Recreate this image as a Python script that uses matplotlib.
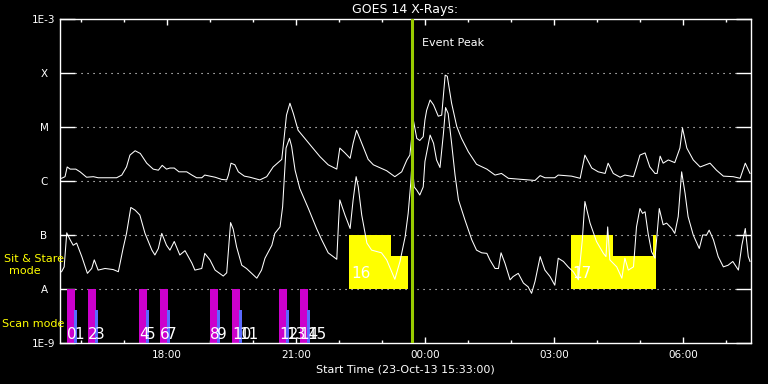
import numpy as np
import matplotlib
matplotlib.use("Agg")
import matplotlib.pyplot as plt
from matplotlib.ticker import NullLocator

# time axis: hours since 23-Oct-13 15:33:00
# flux given as log10(W/m^2)

# long channel (1-8 A)
long_t = [0.0, 0.08, 0.13, 0.20, 0.33, 0.43, 0.58, 0.74, 0.85, 1.28,
          1.40, 1.51, 1.59, 1.71, 1.83, 1.98, 2.13, 2.25, 2.34, 2.44,
          2.52, 2.62, 2.73, 2.91, 3.03, 3.14, 3.26, 3.33, 3.45, 3.57,
          3.72, 3.84, 3.88, 3.94, 4.03, 4.11, 4.25, 4.38, 4.61, 4.77,
          4.92, 5.12, 5.17, 5.23, 5.31, 5.39, 5.50, 5.78, 6.01, 6.20,
          6.40, 6.47, 6.59, 6.71, 6.78, 6.86, 6.98, 7.13, 7.25, 7.56,
          7.75, 7.91, 8.03, 8.10, 8.14, 8.18, 8.26, 8.33, 8.41, 8.45,
          8.49, 8.57, 8.65, 8.76, 8.84, 8.92, 8.97, 9.07, 9.19, 9.30,
          9.46, 9.65, 9.89, 10.08, 10.23, 10.39, 10.70, 11.01, 11.13, 11.24,
          11.47, 11.55, 11.86, 12.06, 12.17, 12.33, 12.48, 12.64, 12.71, 12.83,
          12.99, 13.10, 13.30, 13.37, 13.45, 13.57, 13.68, 13.80, 13.85, 13.92,
          13.99, 14.11, 14.26, 14.38, 14.44, 14.54, 14.69, 14.85, 15.08, 15.23,
          15.39, 15.62, 15.78, 15.90, 16.01]
long_log = [-5.95, -5.92, -5.74, -5.78, -5.78, -5.83, -5.93, -5.92, -5.94, -5.94,
            -5.89, -5.74, -5.52, -5.44, -5.49, -5.67, -5.78, -5.80, -5.71, -5.78,
            -5.76, -5.76, -5.83, -5.83, -5.89, -5.94, -5.94, -5.89, -5.91, -5.93,
            -5.97, -5.98, -5.89, -5.67, -5.70, -5.83, -5.91, -5.93, -5.98, -5.92,
            -5.74, -5.60, -5.24, -4.78, -4.56, -4.75, -5.06, -5.33, -5.55, -5.70,
            -5.78, -5.39, -5.48, -5.58, -5.30, -5.06, -5.30, -5.60, -5.70, -5.81,
            -5.92, -5.83, -5.61, -5.52, -5.21, -4.87, -5.21, -5.25, -5.18, -4.87,
            -4.69, -4.50, -4.59, -4.80, -4.78, -4.04, -4.06, -4.56, -4.99, -5.21,
            -5.46, -5.69, -5.78, -5.89, -5.86, -5.95, -5.97, -5.99, -5.90, -5.94,
            -5.94, -5.89, -5.91, -5.95, -5.52, -5.76, -5.83, -5.86, -5.67, -5.86,
            -5.93, -5.89, -5.92, -5.74, -5.52, -5.48, -5.74, -5.86, -5.86, -5.54,
            -5.67, -5.61, -5.66, -5.39, -5.02, -5.39, -5.61, -5.74, -5.67, -5.80,
            -5.91, -5.92, -5.95, -5.67, -5.86]

# short channel (0.5-4 A)
short_t = [0.0, 0.06, 0.12, 0.20, 0.27, 0.35, 0.47, 0.60, 0.70, 0.76,
           0.85, 1.01, 1.20, 1.32, 1.43, 1.51, 1.61, 1.71, 1.82, 1.94,
           2.10, 2.17, 2.25, 2.33, 2.44, 2.52, 2.62, 2.75, 2.87, 3.03,
           3.10, 3.26, 3.33, 3.45, 3.57, 3.76, 3.84, 3.93, 3.99, 4.07,
           4.19, 4.30, 4.54, 4.65, 4.73, 4.89, 4.96, 5.08, 5.14, 5.22,
           5.30, 5.35, 5.43, 5.54, 5.74, 5.93, 6.05, 6.20, 6.40, 6.44,
           6.47, 6.59, 6.71, 6.78, 6.85, 6.90, 6.98, 7.10, 7.21, 7.44,
           7.56, 7.75, 7.87, 7.99, 8.06, 8.12, 8.15, 8.20, 8.26, 8.33,
           8.41, 8.45, 8.57, 8.65, 8.72, 8.80, 8.88, 8.93, 8.99, 9.07,
           9.15, 9.23, 9.38, 9.54, 9.65, 9.77, 9.89, 9.96, 10.08, 10.16,
           10.22, 10.31, 10.43, 10.50, 10.62, 10.74, 10.85, 10.93, 11.01, 11.13,
           11.24, 11.36, 11.47, 11.55, 11.67, 11.78, 11.90, 12.02, 12.11, 12.17,
           12.29, 12.44, 12.60, 12.66, 12.70, 12.75, 12.91, 13.03, 13.10, 13.18,
           13.30, 13.37, 13.45, 13.51, 13.57, 13.64, 13.72, 13.80, 13.90, 13.99,
           14.07, 14.19, 14.26, 14.34, 14.42, 14.50, 14.57, 14.69, 14.83, 14.91,
           15.00, 15.06, 15.16, 15.27, 15.39, 15.50, 15.61, 15.74, 15.82, 15.90,
           15.97, 16.01]
short_log = [-7.68, -7.59, -6.96, -7.09, -7.19, -7.15, -7.40, -7.71, -7.62, -7.46,
             -7.65, -7.62, -7.64, -7.68, -7.25, -6.97, -6.49, -6.54, -6.63, -6.97,
             -7.28, -7.37, -7.25, -6.97, -7.19, -7.28, -7.12, -7.37, -7.29, -7.52,
             -7.65, -7.62, -7.34, -7.46, -7.65, -7.76, -7.70, -6.77, -6.89, -7.22,
             -7.56, -7.62, -7.80, -7.65, -7.43, -7.19, -6.97, -6.85, -6.48, -5.39,
             -5.21, -5.36, -5.80, -6.14, -6.51, -6.88, -7.09, -7.33, -7.45, -6.78,
             -6.35, -6.63, -6.88, -6.35, -5.92, -6.11, -6.63, -7.15, -7.28, -7.33,
             -7.46, -7.82, -7.49, -7.03, -6.60, -6.04, -5.64, -6.11, -6.17, -6.26,
             -6.11, -5.64, -5.15, -5.30, -5.61, -5.75, -5.12, -4.64, -4.75, -5.30,
             -5.89, -6.35, -6.72, -7.09, -7.28, -7.33, -7.34, -7.46, -7.62, -7.62,
             -7.33, -7.52, -7.83, -7.77, -7.71, -7.89, -7.96, -8.08, -7.86, -7.40,
             -7.65, -7.77, -7.93, -7.43, -7.49, -7.59, -7.68, -7.83, -7.09, -6.38,
             -6.78, -7.12, -7.34, -7.40, -6.85, -7.46, -7.59, -7.80, -7.43, -7.65,
             -7.59, -6.85, -6.51, -6.60, -6.57, -6.97, -7.31, -7.43, -6.51, -6.81,
             -6.78, -6.88, -6.97, -6.66, -5.83, -6.23, -6.66, -7.00, -7.25, -7.00,
             -7.00, -6.91, -7.09, -7.40, -7.59, -7.56, -7.49, -7.65, -7.19, -6.88,
             -7.40, -7.49]

event_peak = 8.14

# scan mode observations (start hour), two numbers per scan
scan_start = [0.126, 0.614, 1.80, 2.29, 3.45, 3.96, 5.06, 5.54]
scan_ids = [(0, 1), (2, 3), (4, 5), (6, 7), (8, 9), (10, 11), (12, 13), (14, 15)]
scan_len = 0.186
scan_sub_off = 0.163
scan_sub_len = 0.07
scan_sub_top = -8.39

# sit & stare observations: (start, end, top log10)
sit_segments = [(6.68, 7.66, -7.0), (7.66, 8.06, -7.39),
                (11.85, 12.82, -7.0), (12.82, 13.75, -7.39), (13.75, 13.83, -7.0)]
sit_labels = [(6.73, "16"), (11.87, "17")]

major_hours = [2.45, 5.45, 8.45, 11.45, 14.45]
major_labels = ["18:00", "21:00", "00:00", "03:00", "06:00"]
minor_hours = [0.45, 1.45, 3.45, 4.45, 6.45, 7.45, 9.45, 10.45, 12.45, 13.45, 15.45]

class_levels = [1e-9, 1e-8, 1e-7, 1e-6, 1e-5, 1e-4, 1e-3]
class_labels = ["1E-9", "A", "B", "C", "M", "X", "1E-3"]

plt.rcParams["font.family"] = ["DejaVu Sans"]

fig = plt.figure(figsize=(7.68, 3.84), dpi=100, facecolor="black")
ax = fig.add_axes([60 / 768, 41 / 384, 690.7 / 768, 324 / 384])
ax.set_facecolor("black")
ax.set_yscale("log")
ax.set_xlim(-0.037, 16.026)
ax.set_ylim(1e-9, 1e-3)

# dotted class lines
for lv in class_levels[1:-1]:
    ax.axhline(lv, xmin=0.022, xmax=0.978, color="white", lw=0.8,
               ls=(0, (1, 4.4)), zorder=1)

# sit & stare boxes
for s, e, top in sit_segments:
    ax.bar(s, 10 ** top - 1e-8, width=e - s, bottom=1e-8, align="edge",
           color="#ffff00", linewidth=0, zorder=2)
for x, lab in sit_labels:
    ax.text(x, 10 ** -7.79, lab, color="white", fontsize=11, ha="left",
            va="baseline", zorder=6)

# scan mode bars
ax.bar(scan_start, 1e-8 - 1e-9, width=scan_len, bottom=1e-9, align="edge",
       color="#cc00cc", linewidth=0, zorder=2)
ax.bar(np.array(scan_start) + scan_sub_off, 10 ** scan_sub_top - 1e-9,
       width=scan_sub_len, bottom=1e-9, align="edge", color="#5a6aff",
       linewidth=0, zorder=3)
for x, (a, b) in zip(scan_start, scan_ids):
    ax.text(x, 10 ** -8.93, str(a), color="white", fontsize=11, ha="left",
            va="baseline", zorder=6)
    ax.text(x + scan_sub_off, 10 ** -8.93, str(b), color="white", fontsize=11,
            ha="left", va="baseline", zorder=6)

# curves
ax.plot(long_t, 10.0 ** np.array(long_log), color="white", lw=0.75, zorder=4)
ax.plot(short_t, 10.0 ** np.array(short_log), color="white", lw=0.75, zorder=4)

# event peak
ax.axvline(event_peak, color="#99cc00", lw=2.2, zorder=5)
ax.text(event_peak + 0.24, 10 ** -3.44, "Event Peak", color="white",
        fontsize=8, ha="left", va="center")

# axes styling
for sp in ax.spines.values():
    sp.set_color("white")
    sp.set_linewidth(1)

ax.set_yticks(class_levels)
ax.set_yticklabels(class_labels)
ax.yaxis.set_minor_locator(NullLocator())
ax.tick_params(axis="y", which="major", direction="in", length=10.8, width=1,
               colors="white", left=True, right=True, labelsize=7.5, pad=11.5)
for lbl in ax.get_yticklabels():
    lbl.set_horizontalalignment("center")

ax.set_xticks(major_hours)
ax.set_xticklabels(major_labels)
ax.set_xticks(minor_hours, minor=True)
ax.tick_params(axis="x", which="major", direction="in", length=4.3, width=1,
               colors="white", top=True, bottom=True, labelsize=7.5, pad=5)
ax.tick_params(axis="x", which="minor", direction="in", length=2.2, width=1,
               colors="white", top=True, bottom=True)

fig.text(405 / 768, 1 - 9 / 384, "GOES 14 X-Rays:", color="white",
         fontsize=9, ha="center", va="center")
fig.text(405 / 768, 1 - 369 / 384, "Start Time (23-Oct-13 15:33:00)",
         color="white", fontsize=8, ha="center", va="center")
fig.text(34 / 768, 1 - 258.7 / 384, "Sit & Stare", color="#ffff00",
         fontsize=8, ha="center", va="center")
fig.text(24.5 / 768, 1 - 271 / 384, "mode", color="#ffff00",
         fontsize=8, ha="center", va="center")
fig.text(2 / 768, 1 - 324 / 384, "Scan mode", color="#ffff00",
         fontsize=8, ha="left", va="center")

fig.savefig("out.png", dpi=100, facecolor="black")
